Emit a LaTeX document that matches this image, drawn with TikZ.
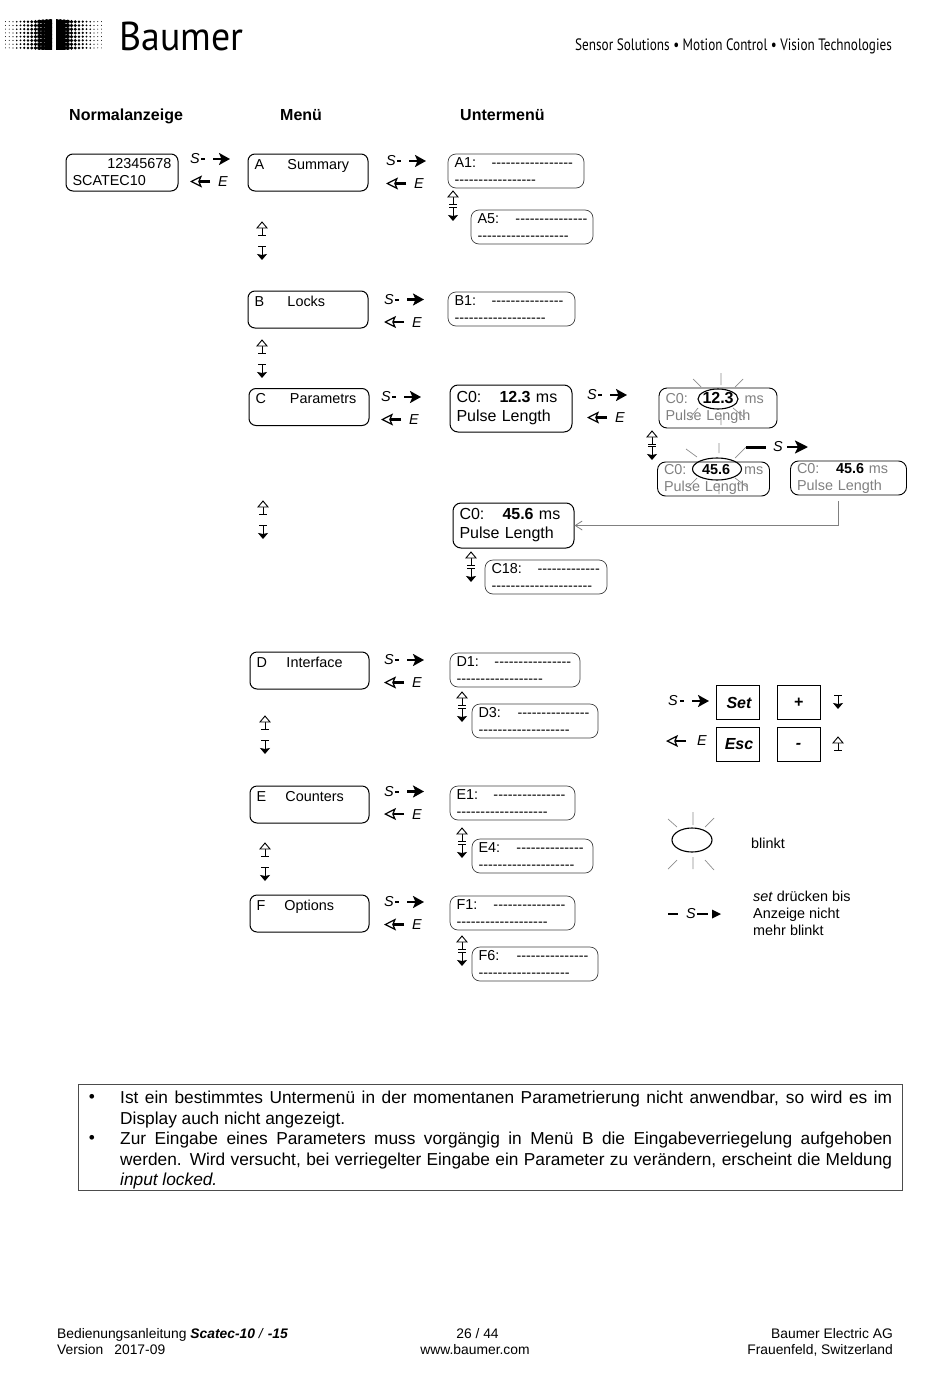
\documentclass[tikz,border=0pt]{standalone}
\usepackage{fontspec}
\usetikzlibrary{arrows.meta,shapes.geometric}
\setmainfont{Liberation Sans}
\newfontfamily\lcdfont{Liberation Sans}
\newfontfamily\logofont{PT Sans}
\definecolor{faded}{gray}{0.5}
\definecolor{ray}{gray}{0.55}
\newcommand{\keyTab}[2]{\makebox[#1pt][l]{#2}}
\tikzset{
  x=1pt,y=-1pt,
  plain/.style={inner sep=0pt,font=\fontsize{14.4}{17}\selectfont},
  heading/.style={inner sep=0pt,anchor=base west,font=\fontsize{16}{19}\selectfont\bfseries},
  footText/.style={inner sep=0pt,align=left,font=\fontsize{13.85}{16}\selectfont},
  noteText/.style={inner sep=0pt,anchor=north west,text width=772pt,align=justify,
    execute at begin node={\hyphenpenalty=10000},font=\fontsize{17.3}{20.5}\selectfont},
  menuBox/.style={draw=black,line width=1pt,rounded corners=7pt,inner xsep=6.5pt,inner ysep=0pt,
    minimum width=#1,minimum height=37pt,text width=#1-13pt,align=left,
    font=\lcdfont\fontsize{14.4}{17}\selectfont},
  subBox/.style 2 args={draw=black!75,line width=.7pt,rounded corners=8pt,inner xsep=6.5pt,inner ysep=0pt,
    minimum width=#1,minimum height=#2,text width=#1-13pt,align=left,
    font=\lcdfont\fontsize{14.4}{17}\selectfont},
  bigBox/.style 2 args={draw=black,line width=1pt,rounded corners=8pt,inner xsep=6.5pt,inner ysep=0pt,
    minimum width=#1,minimum height=#2,text width=#1-13pt,align=left,
    font=\lcdfont\fontsize{16}{19}\selectfont},
  fadedBox/.style 2 args={subBox={#1}{#2},draw=black,line width=.9pt,text=faded},
  keyBox/.style={draw=black,line width=.8pt,minimum width=43pt,minimum height=34pt,inner sep=0pt,
    font=\fontsize{16}{19}\selectfont\bfseries\itshape},
  blinkOval/.style={draw=black,line width=1.1pt,ellipse,inner sep=0pt},
  rayLine/.style={draw=ray,line width=.7pt},
  sLetter/.style={plain,anchor=west,font=\fontsize{14.4}{17}\selectfont\itshape},
  fatArrow/.style={line width=2.2pt,-{Stealth[length=11pt,width=12pt,inset=2.5pt]}},
  openArrow/.style={line width=2.2pt,-{Stealth[open,fill=white,length=12pt,width=12pt,inset=2.5pt,line width=1.2pt]}},
  sePair/.pic={
    \node[sLetter] (-s) at (0,0) {S};
    \node[sLetter] (-e) at (28,23) {E};
    \draw[line width=2pt] (11,0) -- (15,0);
    \draw[fatArrow] (23,0) -- (40,0);
    \draw[openArrow] (20,22.5) -- (0,22.5);
  },
  upKey/.pic={
    \draw[line width=.8pt] (-4,13) -- (4,13) (0,13) -- (0,6);
    \draw[line width=.9pt,fill=white] (-5,6) -- (0,0) -- (5,6) -- cycle;
  },
  downKey/.pic={
    \draw[line width=.8pt] (-4,0) -- (4,0);
    \draw[line width=1pt,-{Stealth[length=6pt,width=10pt,inset=1pt]}] (0,0) -- (0,14);
  }
}
\begin{document}
\begin{tikzpicture}
  \useasboundingbox (0,0) rectangle (950,1378);
  % logo
  \begin{scope}
    \clip (4,20) rectangle (52,50);
    \foreach \i in {0,...,12} \foreach \j in {0,...,7}
      \fill (5.5+3.75*\i,21.7+3.75*\j) circle ({.45+2.4*(\i/12)^1.3});
    \fill (45,20) rectangle (52,50);
  \end{scope}
  \begin{scope}
    \clip (56,20) rectangle (103,50);
    \foreach \i in {0,...,12} \foreach \j in {0,...,7}
      \fill (101.5-3.75*\i,21.7+3.75*\j) circle ({.45+2.4*(\i/12)^1.3});
    \fill (56,20) rectangle (63,50);
  \end{scope}
  \node[inner sep=0pt,anchor=west] (brand) at (119,36) {\scalebox{1.05}[1.12]{\logofont\fontsize{36}{40}\selectfont Baumer}};
  \node[inner sep=0pt,anchor=east] (claim) at (892,46) {\scalebox{.8}[1]{\logofont\fontsize{16.5}{18}\selectfont Sensor Solutions • Motion Control • Vision Technologies}};
  % headings
  \node[heading] (hNormal) at (69,120.5) {Normalanzeige};
  \node[heading] (hMenu) at (280,120.5) {Menü};
  \node[heading] (hSub) at (460,120.5) {Untermenü};
  % left column
  \node[menuBox=112pt] (normal) at (122,172.5) {\hspace*{\fill}12345678\\SCATEC10};
  \node[menuBox=120pt] (menuA) at (308,172.5) {\keyTab{33}{A}Summary\\\mbox{}};
  \node[menuBox=120pt] (menuB) at (308,309.5) {\keyTab{33}{B}Locks\\\mbox{}};
  \node[menuBox=120pt] (menuC) at (309,407) {\keyTab{34.5}{C}Parametrs\\\mbox{}};
  \node[menuBox=119pt] (menuD) at (309.5,670.5) {\keyTab{30}{D}Interface\\\mbox{}};
  \node[menuBox=119pt] (menuE) at (309.5,804.5) {\keyTab{29}{E}Counters\\\mbox{}};
  \node[menuBox=119pt] (menuF) at (309.5,913.5) {\keyTab{28}{F}Options\\\mbox{}};
  % sub menus
  \node[subBox={136pt}{34pt}] (subA1) at (516,171) {\keyTab{37}{A1:}-----------------\\-----------------};
  \node[subBox={122pt}{34pt}] (subA5) at (532,227) {\mbox{\keyTab{38}{A5:}---------------}\\-------------------};
  \node[subBox={127pt}{34pt}] (subB1) at (511.5,309) {\keyTab{37}{B1:}---------------\\-------------------};
  \node[subBox={130pt}{34pt}] (subD1) at (515,670) {\keyTab{38}{D1:}----------------\\------------------};
  \node[subBox={126pt}{34pt}] (subD3) at (535,721) {\keyTab{39}{D3:}---------------\\-------------------};
  \node[subBox={125pt}{34pt}] (subE1) at (512.5,803) {\keyTab{37}{E1:}---------------\\-------------------};
  \node[subBox={121pt}{34pt}] (subE4) at (532.5,856) {\keyTab{38}{E4:}--------------\\--------------------};
  \node[subBox={125pt}{34pt}] (subF1) at (512.5,913) {\keyTab{37}{F1:}---------------\\-------------------};
  \node[subBox={126pt}{34pt}] (subF6) at (535,964) {\keyTab{38}{F6:}---------------\\-------------------};
  \node[subBox={122pt}{34pt}] (subC18) at (546,577) {\keyTab{46}{C18:}-------------\\---------------------};
  % parameter editing
  \node[bigBox={122pt}{47pt}] (valOld) at (511,408.5) {\keyTab{43}{C0:}\textbf{12.3} ms\\Pulse Length};
  \node[bigBox={121pt}{45pt}] (valNew) at (513.5,525.5) {\keyTab{43}{C0:}\textbf{45.6} ms\\Pulse Length};
  \node[fadedBox={118pt}{40pt}] (editOld) at (718,408) {\keyTab{37}{C0:}\textcolor{black}{\fontsize{16}{17}\selectfont\textbf{12.3}}\hspace{11pt}ms\\Pulse Length};
  \node[fadedBox={112pt}{34pt}] (editNew) at (713.5,479) {\mbox{\keyTab{38}{C0:}\textcolor{black}{\textbf{45.6}}\hspace{14pt}ms}\\Pulse Length};
  \node[fadedBox={116pt}{34pt}] (editDone) at (848.5,478) {\keyTab{39}{C0:}\textcolor{black}{\textbf{45.6}} ms\\Pulse Length};
  \coordinate (doneTail) at (838,501);
  \draw[draw=faded,line width=.8pt,-{Straight Barb[length=7pt,width=9pt]}] (doneTail) |- (valNew.east);
  % blinking ovals
  \node[blinkOval,minimum width=40pt,minimum height=20pt] (ovalOld) at (718,399) {};
  \node[blinkOval,minimum width=49pt,minimum height=22pt] (ovalNew) at (717,469) {};
  \draw[rayLine] (721,373) -- (721,385) (693,379) -- (701,387) (743,379) -- (735,387)
    (698,408) -- (690,418) (721,415) -- (721,425) (733,408) -- (745,418);
  \draw[rayLine] (719,443) -- (719,453) (686,449) -- (697,457) (746,447) -- (735,458)
    (697,478) -- (688,487) (719,483) -- (719,494) (735,478) -- (747,487);
  % S and E arrows
  \pic (pairN) at (190,159) {sePair};
  \pic (pairA) at (386,161) {sePair};
  \pic (pairB) at (384,299.5) {sePair};
  \pic (pairC) at (381,397) {sePair};
  \pic (pairV) at (587,395) {sePair};
  \pic (pairD) at (384,660) {sePair};
  \pic (pairE) at (384,791.5) {sePair};
  \pic (pairF) at (384,902) {sePair};
  \node[sLetter] (confS) at (773,447) {S};
  \draw[line width=3pt] (746,447) -- (766,447);
  \draw[line width=2.4pt,-{Stealth[length=13pt,width=13pt,inset=3pt]}] (787,447) -- (808,447);
  % menu up and down
  \pic at (262,222) {upKey};
  \pic at (262,246) {downKey};
  \pic at (262,340) {upKey};
  \pic at (262,364) {downKey};
  \pic at (263,501) {upKey};
  \pic at (263,525) {downKey};
  \pic at (265,716) {upKey};
  \pic at (265,740) {downKey};
  \pic at (265,843) {upKey};
  \pic at (265,867) {downKey};
  % sub menu up and down
  \pic at (453,191) {upKey};
  \pic at (453,207) {downKey};
  \pic at (652,431) {upKey};
  \pic at (652,446) {downKey};
  \pic at (471,552) {upKey};
  \pic at (471,568) {downKey};
  \pic at (462,692) {upKey};
  \pic at (462,708) {downKey};
  \pic at (462,828) {upKey};
  \pic at (462,844) {downKey};
  \pic at (462,936) {upKey};
  \pic at (462,952) {downKey};
  % key panel
  \node[keyBox] (keySet) at (737.5,702.5) {\hspace{3pt}Set};
  \node[keyBox] (keyEsc) at (737.5,744) {\hspace{3pt}Esc};
  \node[keyBox] (keyPlus) at (798.5,702.5) {+};
  \node[keyBox] (keyMinus) at (798.5,744) {\rule{0pt}{9pt}-};
  \node[sLetter] (panelS) at (668,700.5) {S};
  \node[sLetter] (panelE) at (697,741) {E};
  \draw[line width=1.5pt] (680,701) -- (684,701);
  \draw[fatArrow] (692,701) -- (709,701);
  \draw[openArrow] (686,741) -- (666,741);
  \pic at (838,695) {downKey};
  \pic at (838,737) {upKey};
  % legend
  \node[blinkOval,minimum width=40pt,minimum height=24pt] (ovalKey) at (692,840) {};
  \draw[rayLine] (693,812) -- (693,825) (668,819) -- (677,827) (714,818) -- (705,827)
    (668,869) -- (677,860) (693,857) -- (693,869) (714,870) -- (705,860);
  \node[plain,anchor=west] (blinkText) at (751,843) {blinkt};
  \node[sLetter] (legendS) at (686,914) {S};
  \draw[line width=2pt] (668,914) -- (678,914) (697,914) -- (708,914);
  \fill (712,909.5) -- (721,914) -- (712,918.5) -- cycle;
  \node[plain,anchor=north west,align=left] (setText) at (753,891) {\textit{set} drücken bis\\Anzeige nicht\\mehr blinkt};
  % notes
  \node[draw=black!70,line width=.7pt,minimum width=824pt,minimum height=106pt,inner sep=0pt] (noteFrame) at (490,1137) {};
  \node[plain,font=\fontsize{17.3}{20.5}\selectfont] (bulletA) at (92,1098) {•};
  \node[plain,font=\fontsize{17.3}{20.5}\selectfont] (bulletB) at (92,1139) {•};
  \node[noteText] (noteA) at (120,1091)
    {Ist ein bestimmtes Untermenü in der momentanen Parametrierung nicht anwendbar, so wird es im Display auch nicht angezeigt.};
  \node[noteText] (noteB) at (120,1132)
    {Zur Eingabe eines Parameters muss vorgängig in Menü B die Eingabeverriegelung aufgehoben werden. Wird versucht, bei verriegelter Eingabe ein Parameter zu verändern, erscheint die Meldung \textit{input locked.}};
  % footer
  \node[footText,anchor=north west] (footLeft) at (57,1328.5) {Bedienungsanleitung \textbf{\textit{Scatec-10}} \textit{/} \textbf{\textit{-15}}\\Version\hspace{11pt}2017-09};
  \node[footText,anchor=north,align=center] (footMid) at (475,1328.5) {\hspace{5pt}26 / 44\\www.baumer.com};
  \node[footText,anchor=north east,align=right] (footRight) at (893,1328.5) {Baumer Electric AG\\Frauenfeld, Switzerland};
\end{tikzpicture}
\end{document}
